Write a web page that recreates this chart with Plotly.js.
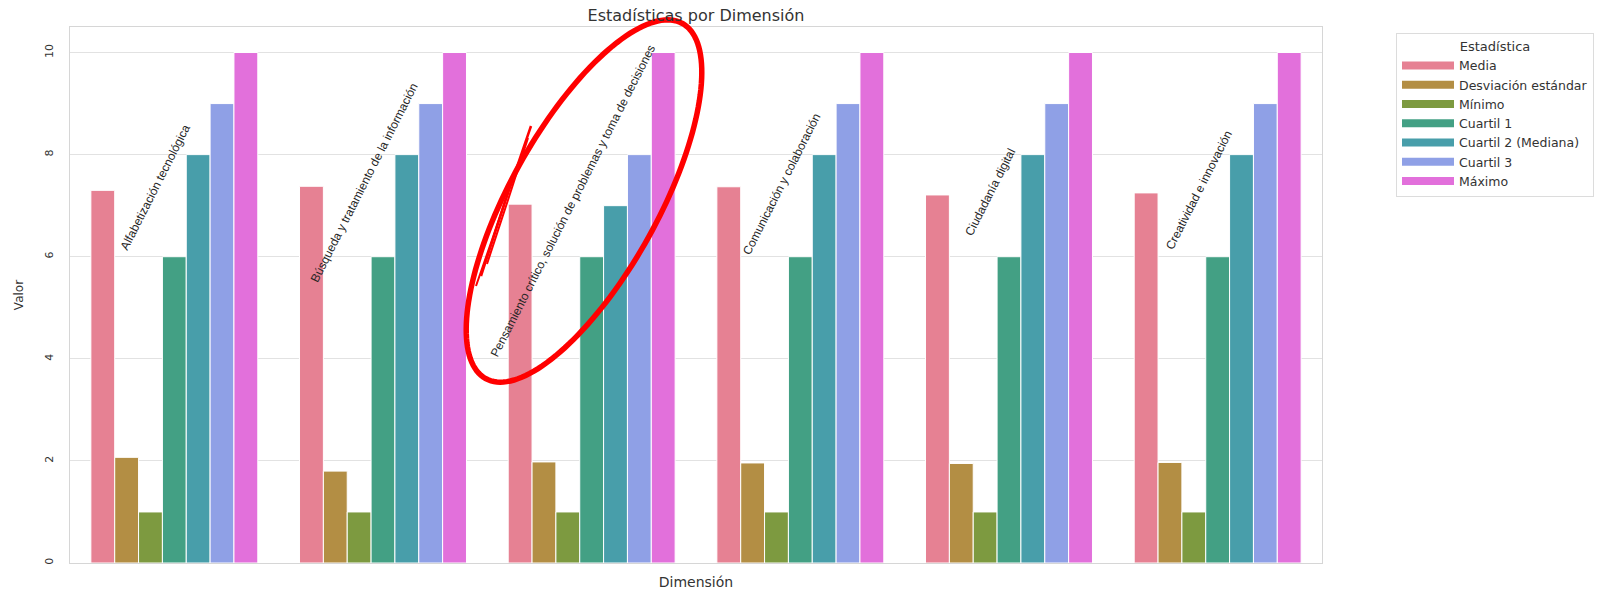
<!DOCTYPE html>
<html>
<head>
<meta charset="utf-8">
<script src="https://cdn.plot.ly/plotly-3.0.1.min.js"></script>
<style>
html,body{margin:0;padding:0;background:#fff;}
#chart{width:1612px;height:595px;}
</style>
</head>
<body>
<div id="chart"></div>
<script>
// ---- data ----
const dimensiones = [
  "Alfabetización tecnológica",
  "Búsqueda y tratamiento de la información",
  "Pensamiento crítico, solución de problemas y toma de decisiones",
  "Comunicación y colaboración",
  "Ciudadanía digital",
  "Creatividad e innovación"
];
const estadisticas = ["Media", "Desviación estándar", "Mínimo", "Cuartil 1", "Cuartil 2 (Mediana)", "Cuartil 3", "Máximo"];
const media      = [7.30, 7.38, 7.03, 7.37, 7.21, 7.25];
const desviacion = [2.07, 1.80, 1.98, 1.96, 1.95, 1.97];
const minimo     = [1, 1, 1, 1, 1, 1];
const cuartil1   = [6, 6, 6, 6, 6, 6];
const cuartil2   = [8, 8, 7, 8, 8, 8];
const cuartil3   = [9, 9, 8, 9, 9, 9];
const maximo     = [10, 10, 10, 10, 10, 10];
const yTicks     = [0, 2, 4, 6, 8, 10];

// ---- styles ----
const colores = ["#e68193", "#b38e44", "#7d9a40", "#43a084", "#489eaa", "#8fa0e6", "#e270db"];
const series = [media, desviacion, minimo, cuartil1, cuartil2, cuartil3, maximo];

const W = 1612, H = 595, mL = 70, mR = 290, mT = 27, mB = 32;
const plotW = W - mL - mR, plotH = H - mT - mB;
const px2x = p => (p - mL) / plotW;
const py2y = p => (H - mB - p) / plotH;

const traces = [];
series.forEach((vals, k) => {
  traces.push({
    type: "bar",
    x: dimensiones,
    y: vals,
    name: estadisticas[k],
    legendgroup: estadisticas[k],
    showlegend: false,
    marker: {color: colores[k], line: {color: "#ffffff", width: 1}},
    hovertemplate: "%{x}<br>" + estadisticas[k] + ": %{y}<extra></extra>"
  });
});
// legend swatches (wide rectangles like the original)
series.forEach((vals, k) => {
  traces.push({
    type: "scatter",
    mode: "lines",
    x: [null], y: [null],
    name: estadisticas[k],
    legendgroup: estadisticas[k],
    line: {color: colores[k], width: 8},
    hoverinfo: "skip"
  });
});

// hand-drawn red ellipse (annotation on the picture)
function ellipsePath(cx, cy, a, b, thetaDeg, t0, t1, n, close) {
  const th = thetaDeg * Math.PI / 180;
  const ux = Math.cos(th), uy = -Math.sin(th);
  const vx = Math.sin(th), vy = Math.cos(th);
  let d = "";
  for (let i = 0; i <= n; i++) {
    const t = t0 + (t1 - t0) * i / n;
    const X = cx + a * Math.cos(t) * ux + b * Math.sin(t) * vx;
    const Y = cy + a * Math.cos(t) * uy + b * Math.sin(t) * vy;
    d += (i === 0 ? "M" : "L") + px2x(X).toFixed(5) + "," + py2y(Y).toFixed(5) + " ";
  }
  return d + (close ? "Z" : "");
}
function linePath(pts) {
  return pts.map((p, i) => (i === 0 ? "M" : "L") + px2x(p[0]).toFixed(5) + "," + py2y(p[1]).toFixed(5)).join(" ");
}
const shapes = [
  {type: "path", xref: "paper", yref: "paper", layer: "above",
   path: ellipsePath(584, 201, 203, 74, 61, 0, 2 * Math.PI, 160, true),
   line: {color: "#ff0000", width: 5.5}, fillcolor: "rgba(0,0,0,0)"},
  {type: "path", xref: "paper", yref: "paper", layer: "above",
   path: linePath([[481, 276], [505, 202], [531, 126]]),
   line: {color: "#ff0000", width: 2.5}},
  {type: "path", xref: "paper", yref: "paper", layer: "above",
   path: linePath([[487, 264], [508, 200], [528, 138]]),
   line: {color: "#ff0000", width: 2}},
  {type: "path", xref: "paper", yref: "paper", layer: "above",
   path: linePath([[476, 286], [492, 240], [506, 198]]),
   line: {color: "#ff0000", width: 2}}
];

// rotated dimension labels, placed next to each group's mean bar
const annotations = dimensiones.map((d, i) => ({
  xref: "x", yref: "y",
  x: i - 0.09, y: media[i] + 0.06,
  text: d, textangle: -63, showarrow: false,
  xanchor: "center", yanchor: "middle",
  font: {family: "Liberation Sans, Arial, sans-serif", size: 12, color: "#262626"}
}));

const layout = {
  width: W, height: H,
  margin: {l: mL, r: mR, t: mT, b: mB},
  paper_bgcolor: "#ffffff", plot_bgcolor: "#ffffff",
  font: {family: "DejaVu Sans, Liberation Sans, sans-serif", color: "#333333"},
  title: {text: "Estadísticas por Dimensión", x: 0.5, xref: "paper", xanchor: "center",
          y: 1 - 15 / H, yref: "container", yanchor: "middle",
          font: {family: "DejaVu Sans, sans-serif", size: 16, color: "#333333"}},
  barmode: "group", bargap: 0.2, bargroupgap: 0,
  showlegend: true,
  xaxis: {type: "category", range: [-0.5, 5.5], showticklabels: false, ticks: "",
          showgrid: false, zeroline: false, showline: true, mirror: true,
          linecolor: "#d6d6d6", linewidth: 1, fixedrange: true,
          title: {text: "Dimensión", standoff: 14, font: {family: "DejaVu Sans, sans-serif", size: 14, color: "#333333"}}},
  yaxis: {range: [0, 10.5], tickvals: yTicks, ticktext: yTicks.map(String), tickangle: -90,
          tickfont: {family: "DejaVu Sans, sans-serif", size: 11, color: "#333333"}, ticks: "", ticklabelstandoff: 12,
          showgrid: true, gridcolor: "#e2e2e2", gridwidth: 1, zeroline: false,
          showline: true, mirror: true, linecolor: "#d6d6d6", linewidth: 1, fixedrange: true,
          title: {text: "Valor", standoff: 16, font: {family: "DejaVu Sans, sans-serif", size: 12, color: "#333333"}}},
  legend: {x: px2x(1396), xanchor: "left", y: py2y(33), yanchor: "top",
           bordercolor: "#dcdcdc", borderwidth: 1, bgcolor: "#ffffff",
           font: {family: "DejaVu Sans, sans-serif", size: 12.5, color: "#333333"}, tracegroupgap: 0, itemwidth: 52,
           title: {text: "Estadística", side: "top center", font: {family: "DejaVu Sans, sans-serif", size: 13, color: "#333333"}}},
  shapes: shapes,
  annotations: annotations
};

Plotly.newPlot("chart", traces, layout, {displayModeBar: false, responsive: false});
</script>
</body>
</html>
